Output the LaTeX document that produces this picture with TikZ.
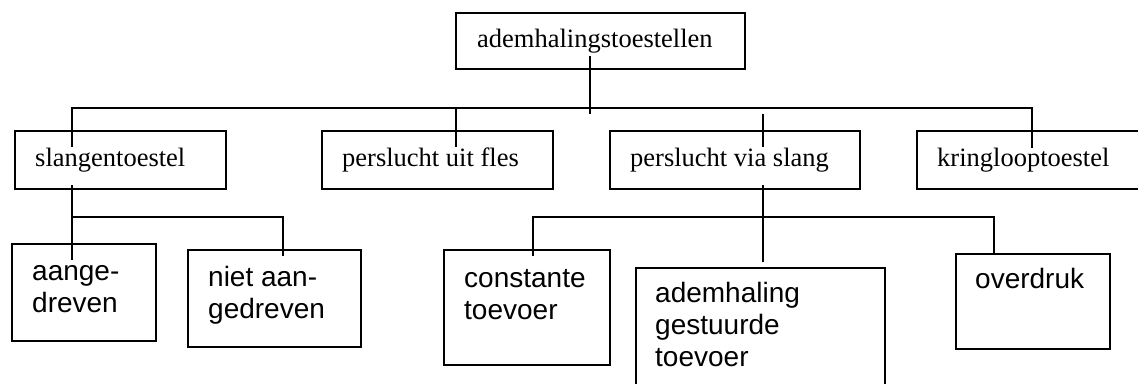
\documentclass[tikz,border=0pt]{standalone}
\usepackage{fontspec}
\setmainfont{Liberation Serif}
\newfontfamily\arialfont{Liberation Sans}
\begin{document}
\begin{tikzpicture}[x=1pt,y=-1pt,
  boxnode/.style={draw, line width=1.7pt, inner sep=0pt, anchor=north west},
  serlabel/.style={anchor=base west, inner sep=0pt, font=\fontsize{26.5}{30}\selectfont},
  sanslabel/.style={anchor=base west, inner sep=0pt, align=left, font=\arialfont\fontsize{28}{32}\selectfont},
  conn/.style={line width=1.4pt}]
\useasboundingbox (0,0) rectangle (1138,383);
\clip (0,0) rectangle (1138,383);
% row 1
\node[boxnode, minimum width=289pt, minimum height=56pt] (top) at (455,12) {};
\node[serlabel] (topt) at (477,47) {ademhalingstoestellen};
% row 2
\node[boxnode, minimum width=211pt, minimum height=58pt] (slang) at (14,130) {};
\node[serlabel] (slangt) at (35,166) {slangentoestel};
\node[boxnode, minimum width=231pt, minimum height=58pt] (fles) at (321,130) {};
\node[serlabel] (flest) at (342,166) {perslucht uit fles};
\node[boxnode, minimum width=250pt, minimum height=58pt] (via) at (609,130) {};
\node[serlabel] (viat) at (630,166) {perslucht via slang};
\node[boxnode, minimum width=240pt, minimum height=58pt] (kring) at (916,130) {};
\node[serlabel] (kringt) at (937,166) {kringlooptoestel};
% row 3 (label anchors sit on the last baseline)
\node[boxnode, minimum width=144pt, minimum height=97pt] (aan) at (11,243) {};
\node[sanslabel] (aant) at (32,312) {aange-\\dreven};
\node[boxnode, minimum width=173pt, minimum height=97pt] (niet) at (187,249) {};
\node[sanslabel] (nietet) at (208,318) {niet aan-\\gedreven};
\node[boxnode, minimum width=166pt, minimum height=115pt] (const) at (443,249) {};
\node[sanslabel] (constt) at (464,319) {constante\\toevoer};
\node[boxnode, minimum width=249pt, minimum height=140pt] (adem) at (635,267) {};
\node[sanslabel] (ademt) at (655,366) {ademhaling\\gestuurde\\toevoer};
\node[boxnode, minimum width=154pt, minimum height=95pt] (over) at (955,253) {};
\node[sanslabel] (overt) at (975,288) {overdruk};
% junction coordinates
\coordinate (t1) at (590,56);  \coordinate (t2) at (590,114);
\coordinate (hL) at (72,108);  \coordinate (hR) at (1032,108);
\coordinate (s1) at (72,147);
\coordinate (f0) at (456,108); \coordinate (f1) at (456,147);
\coordinate (v0) at (763,114); \coordinate (v1) at (763,147);
\coordinate (k1) at (1032,148);
\coordinate (sa) at (72,185);  \coordinate (sb) at (72,260);
\coordinate (gL) at (72,217);  \coordinate (gR) at (283,217); \coordinate (g1) at (283,256);
\coordinate (va) at (763,185); \coordinate (vb) at (763,262);
\coordinate (cL) at (533,217); \coordinate (cR) at (994,217);
\coordinate (c1) at (533,256); \coordinate (o1) at (994,255);
% connectors
\draw[conn] (t1) -- (t2);
\draw[conn] (s1) -- (hL) -- (hR) -- (k1);
\draw[conn] (f0) -- (f1);
\draw[conn] (v0) -- (v1);
\draw[conn] (sa) -- (sb);
\draw[conn] (gL) -- (gR) -- (g1);
\draw[conn] (va) -- (vb);
\draw[conn] (c1) -- (cL) -- (cR) -- (o1);
\end{tikzpicture}
\end{document}
